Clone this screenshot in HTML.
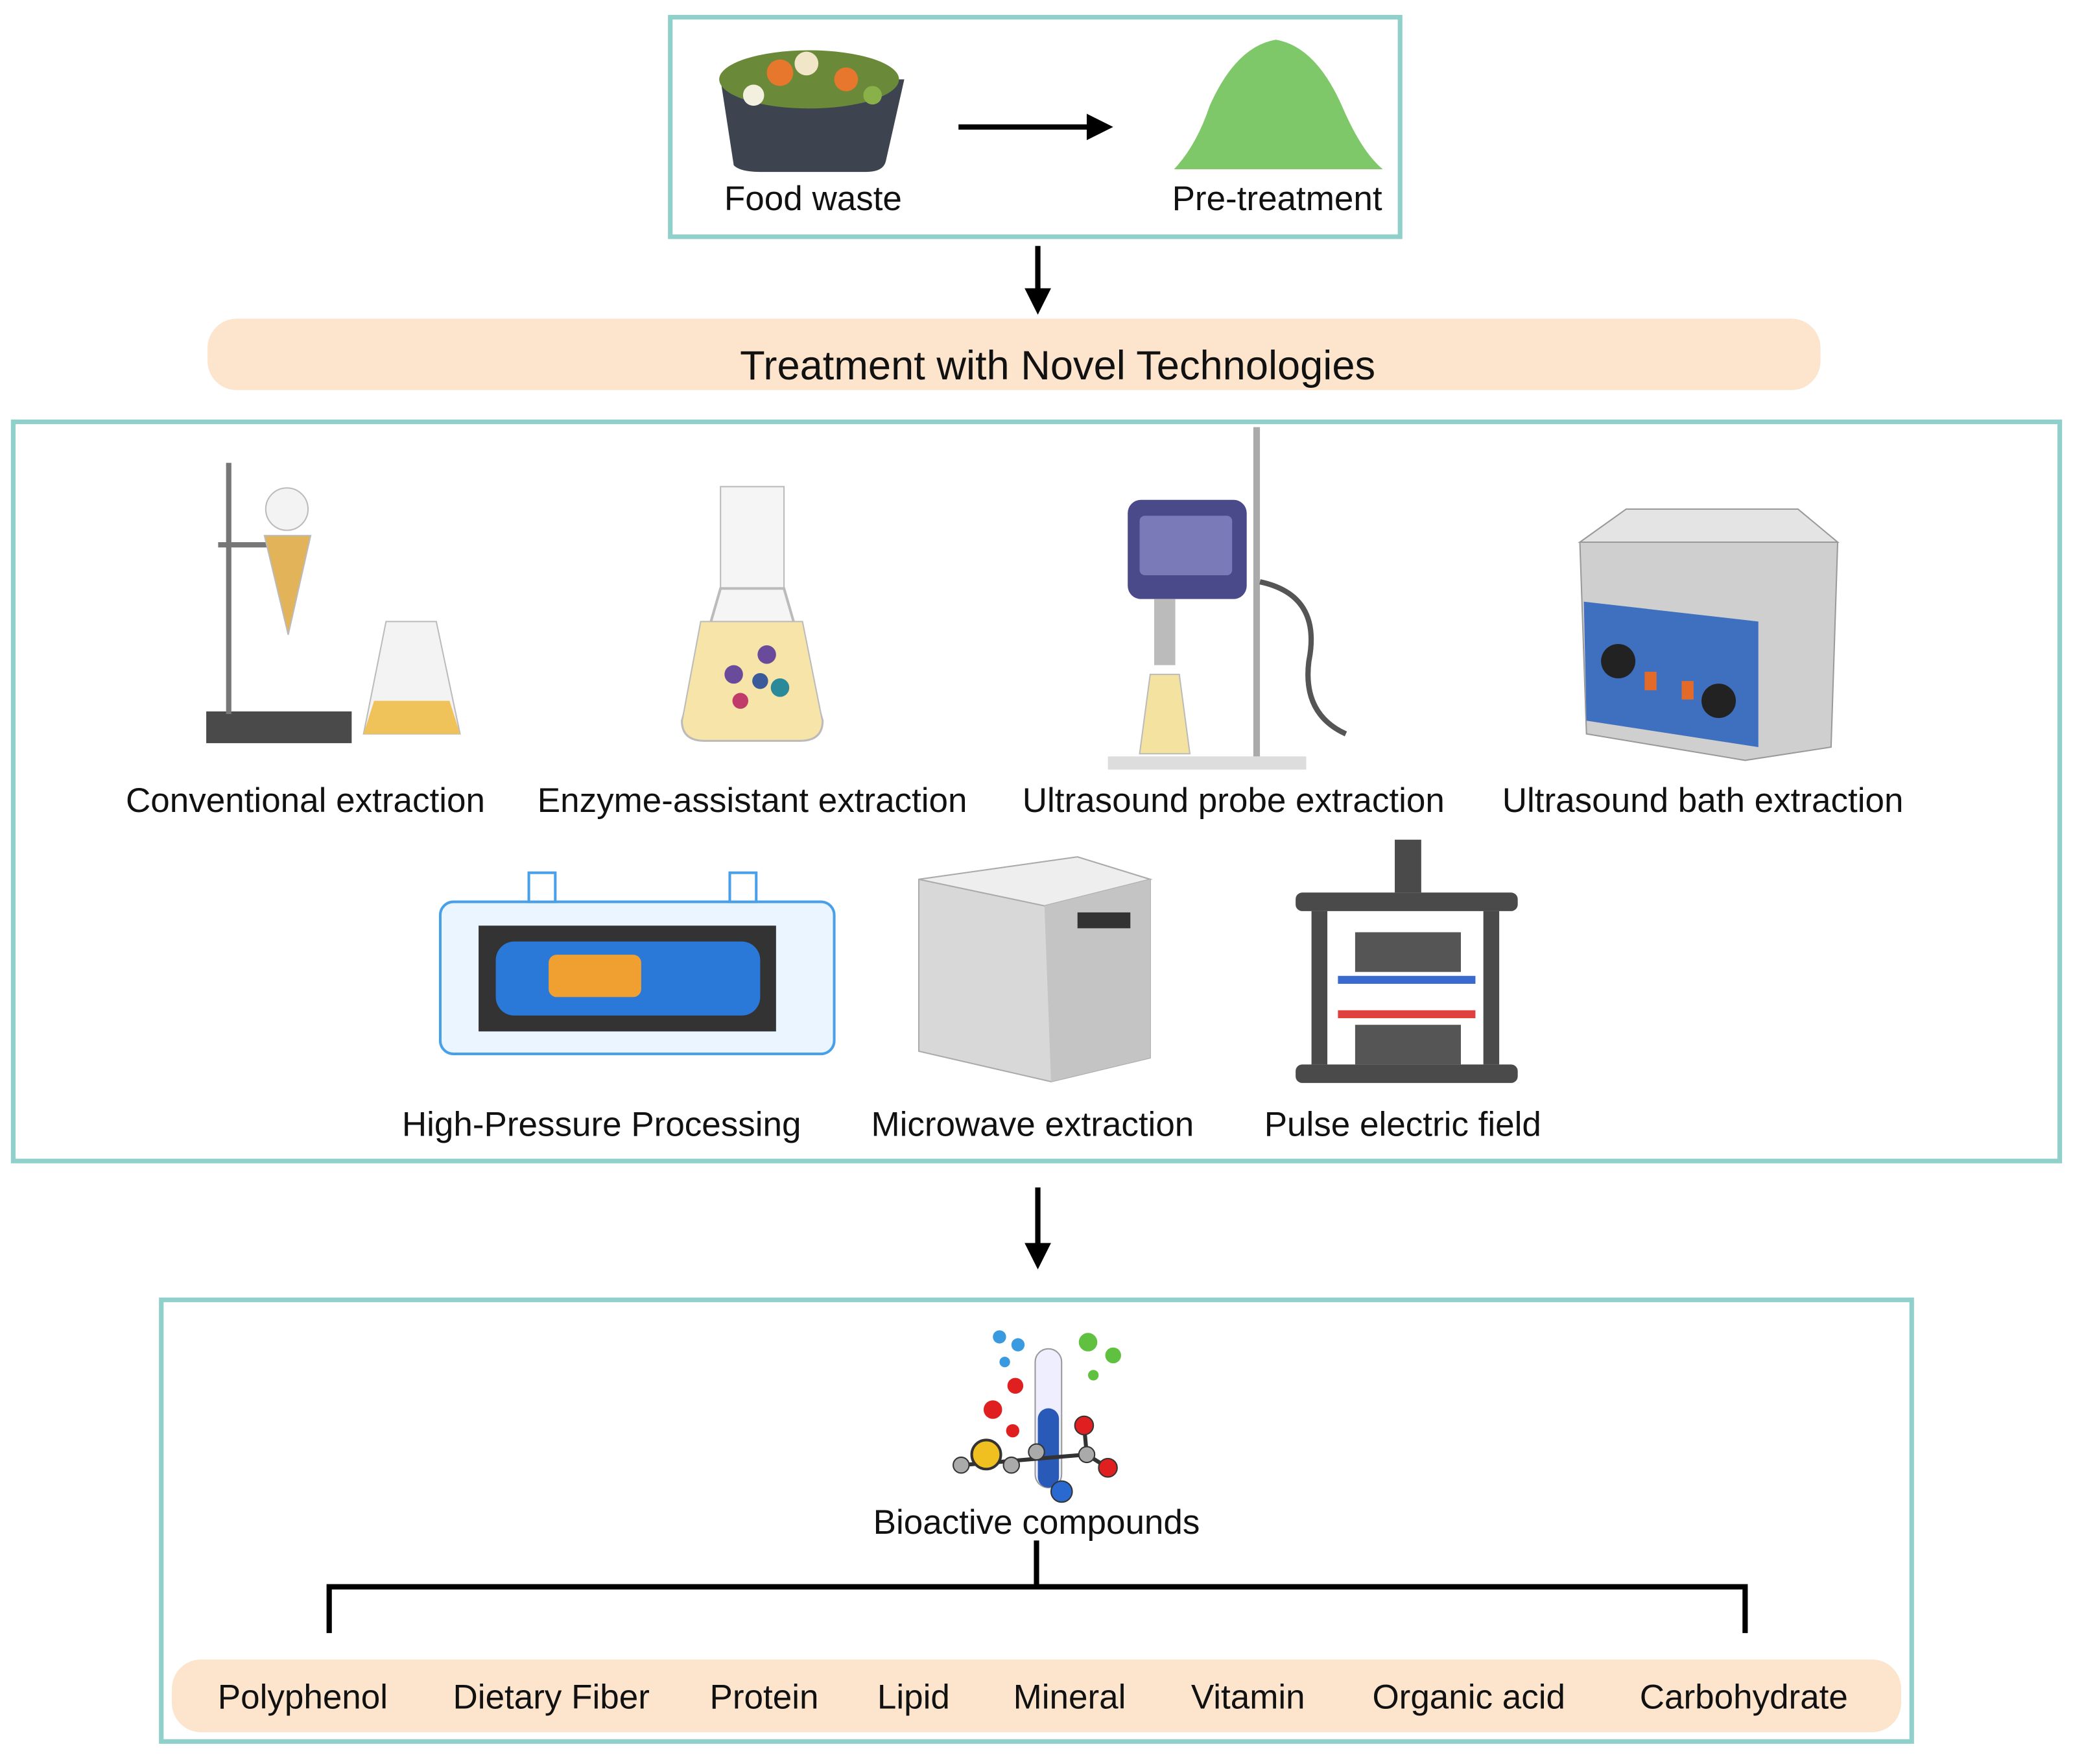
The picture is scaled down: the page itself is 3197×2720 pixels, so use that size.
<!DOCTYPE html>
<html><head><meta charset="utf-8"><style>
html,body{margin:0;padding:0;background:#fff;}
svg{display:block;}
text{font-family:"Liberation Sans",Arial,sans-serif;fill:#111;}
</style></head><body>
<svg width="3197" height="2720" viewBox="0 0 1568 1334" xmlns="http://www.w3.org/2000/svg">
<!-- top box -->
<rect x="507" y="13" width="552" height="166" fill="#fff" stroke="#8fd0ca" stroke-width="3.5"/>
<path d="M545,60 L555,125 Q560,130 575,130 L655,130 Q668,130 670,122 L684,60 Z" fill="#3d4450"/>
<ellipse cx="612" cy="60" rx="68" ry="22" fill="#6a8a3a"/>
<circle cx="590" cy="55" r="10" fill="#e8772e"/><circle cx="640" cy="60" r="9" fill="#e8772e"/><circle cx="610" cy="48" r="9" fill="#f2e6c8"/><circle cx="570" cy="72" r="8" fill="#f4f0e0"/><circle cx="660" cy="72" r="7" fill="#8ab04a"/>
<line x1="725" y1="96" x2="832" y2="96" stroke="#000" stroke-width="4"/>
<path d="M822,86 L842,96 L822,106 z" fill="#000"/>
<path d="M888,128 Q905,110 915,80 Q935,35 965,30 Q995,35 1015,80 Q1030,115 1046,128 Z" fill="#7ec86a"/>
<text x="615" y="159" font-size="26" text-anchor="middle">Food waste</text>
<text x="966" y="159" font-size="26" text-anchor="middle">Pre-treatment</text>
<line x1="785" y1="186" x2="785" y2="226" stroke="#000" stroke-width="4"/>
<path d="M775,218 L785,238 L795,218 z" fill="#000"/>
<rect x="157" y="241" width="1220" height="54" rx="22" fill="#fce4cd"/>
<text x="800" y="287" font-size="31" text-anchor="middle">Treatment with Novel Technologies</text>
<rect x="10" y="319" width="1548" height="559" fill="#fff" stroke="#8fd0ca" stroke-width="3.5"/>
<rect x="156" y="538" width="110" height="24" fill="#4a4a4a"/>
<rect x="171" y="350" width="4" height="190" fill="#777"/>
<rect x="165" y="410" width="45" height="4" fill="#777"/>
<path d="M200,405 L235,405 L218,480 Z" fill="#e3b35a" stroke="#bbb"/>
<circle cx="217" cy="385" r="16" fill="#f3f3f3" stroke="#bbb"/>
<path d="M292,470 L330,470 L348,555 L275,555 Z" fill="#f3f3f3" stroke="#bbb"/>
<path d="M283,530 L340,530 L348,555 L275,555 Z" fill="#f0c25a"/>
<rect x="545" y="368" width="48" height="80" fill="#f5f5f5" stroke="#bbb"/>
<path d="M545,445 L593,445 L622,545 Q622,560 605,560 L533,560 Q516,560 516,545 Z" fill="#f5f5f5" stroke="#bbb" stroke-width="2"/>
<path d="M530,470 L607,470 L622,545 Q622,560 605,560 L533,560 Q516,560 516,545 Z" fill="#f6e4a8" stroke="#bbb"/>
<g fill="#6a4a9a"><circle cx="555" cy="510" r="7"/><circle cx="580" cy="495" r="7"/><circle cx="590" cy="520" r="7" fill="#2a8a9a"/><circle cx="560" cy="530" r="6" fill="#c03a6a"/><circle cx="575" cy="515" r="6" fill="#3a5a9a"/></g>
<rect x="948" y="323" width="5" height="255" fill="#aaa"/>
<rect x="838" y="572" width="150" height="10" fill="#ddd"/>
<rect x="853" y="378" width="90" height="75" rx="10" fill="#4a4a8a"/>
<rect x="862" y="390" width="70" height="45" rx="4" fill="#7a7ab8"/>
<rect x="873" y="453" width="16" height="50" fill="#bbb"/>
<path d="M870,510 L892,510 L900,570 L862,570 Z" fill="#f4e3a0" stroke="#bbb"/>
<path d="M953,440 Q1000,450 990,500 Q985,540 1018,555" fill="none" stroke="#555" stroke-width="4"/>
<path d="M1195,410 L1390,410 L1385,565 L1320,575 L1200,555 Z" fill="#cfcfcf" stroke="#999"/>
<path d="M1195,410 L1230,385 L1360,385 L1390,410 Z" fill="#e4e4e4" stroke="#999"/>
<path d="M1198,455 L1330,470 L1330,565 L1200,545 Z" fill="#3f6fbf"/>
<circle cx="1224" cy="500" r="13" fill="#222"/><circle cx="1300" cy="530" r="13" fill="#222"/>
<rect x="1244" y="508" width="9" height="14" fill="#e46a2a"/><rect x="1272" y="515" width="9" height="14" fill="#e46a2a"/>
<text x="231" y="614" font-size="26" text-anchor="middle">Conventional extraction</text>
<text x="569" y="614" font-size="26" text-anchor="middle">Enzyme-assistant extraction</text>
<text x="933" y="614" font-size="26" text-anchor="middle">Ultrasound probe extraction</text>
<text x="1288" y="614" font-size="26" text-anchor="middle">Ultrasound bath extraction</text>
<rect x="333" y="682" width="298" height="115" rx="10" fill="#eaf5ff" stroke="#4aa0e8" stroke-width="2"/>
<rect x="362" y="700" width="225" height="80" fill="#333"/>
<rect x="375" y="712" width="200" height="56" rx="14" fill="#2a78d8"/>
<rect x="415" y="722" width="70" height="32" rx="6" fill="#f0a030"/>
<rect x="400" y="660" width="20" height="22" fill="#fff" stroke="#4aa0e8" stroke-width="2"/>
<rect x="552" y="660" width="20" height="22" fill="#fff" stroke="#4aa0e8" stroke-width="2"/>
<path d="M695,665 L815,648 L870,665 L870,800 L795,818 L695,795 Z" fill="#d8d8d8" stroke="#aaa"/>
<path d="M695,665 L815,648 L870,665 L790,685 Z" fill="#eeeeee" stroke="#aaa"/>
<path d="M790,685 L870,665 L870,800 L795,818 Z" fill="#c4c4c4"/>
<rect x="815" y="690" width="40" height="12" fill="#333"/>
<rect x="980" y="675" width="168" height="14" rx="5" fill="#4a4a4a"/>
<rect x="980" y="805" width="168" height="14" rx="5" fill="#4a4a4a"/>
<rect x="992" y="689" width="12" height="116" fill="#4a4a4a"/>
<rect x="1122" y="689" width="12" height="116" fill="#4a4a4a"/>
<rect x="1055" y="635" width="20" height="40" fill="#4a4a4a"/>
<rect x="1025" y="705" width="80" height="30" fill="#555"/>
<rect x="1025" y="775" width="80" height="30" fill="#555"/>
<rect x="1012" y="738" width="104" height="6" fill="#3a6ad0"/>
<rect x="1012" y="764" width="104" height="6" fill="#e04040"/>
<text x="455" y="859" font-size="26" text-anchor="middle">High-Pressure Processing</text>
<text x="781" y="859" font-size="26" text-anchor="middle">Microwave extraction</text>
<text x="1061" y="859" font-size="26" text-anchor="middle">Pulse electric field</text>
<line x1="785" y1="898" x2="785" y2="948" stroke="#000" stroke-width="4"/>
<path d="M775,940 L785,960 L795,940 z" fill="#000"/>
<rect x="122" y="983" width="1324" height="334" fill="#fff" stroke="#8fd0ca" stroke-width="3.5"/>
<rect x="783" y="1020" width="20" height="105" rx="10" fill="#eef" stroke="#999"/>
<rect x="785" y="1065" width="16" height="60" rx="8" fill="#2a5ab8"/>
<g stroke="#333" stroke-width="3"><line x1="727" y1="1108" x2="822" y2="1100"/><line x1="822" y1="1100" x2="838" y2="1110"/><line x1="822" y1="1100" x2="820" y2="1078"/></g>
<circle cx="746" cy="1100" r="11" fill="#f0c020" stroke="#333" stroke-width="2"/>
<circle cx="727" cy="1108" r="6" fill="#aaa" stroke="#333"/><circle cx="765" cy="1108" r="6" fill="#aaa" stroke="#333"/><circle cx="784" cy="1098" r="6" fill="#aaa" stroke="#333"/>
<circle cx="803" cy="1128" r="8" fill="#2a6ad0" stroke="#333"/><circle cx="822" cy="1100" r="6" fill="#aaa" stroke="#333"/>
<circle cx="838" cy="1110" r="7" fill="#e02020" stroke="#333"/><circle cx="820" cy="1078" r="7" fill="#e02020" stroke="#333"/>
<circle cx="751" cy="1066" r="7" fill="#e02020"/><circle cx="768" cy="1048" r="6" fill="#e02020"/><circle cx="766" cy="1082" r="5" fill="#e02020"/>
<circle cx="756" cy="1011" r="5" fill="#3a9ae0"/><circle cx="770" cy="1017" r="5" fill="#3a9ae0"/><circle cx="760" cy="1030" r="4" fill="#3a9ae0"/>
<circle cx="823" cy="1015" r="7" fill="#60c040"/><circle cx="842" cy="1025" r="6" fill="#60c040"/><circle cx="827" cy="1040" r="4" fill="#60c040"/>
<text x="784" y="1160" font-size="26" text-anchor="middle">Bioactive compounds</text>
<g stroke="#000" stroke-width="4" fill="none">
<line x1="784" y1="1165" x2="784" y2="1200"/>
<path d="M249,1235 L249,1200 L1320,1200 L1320,1235"/>
</g>
<rect x="130" y="1255" width="1308" height="55" rx="22" fill="#fce4cd"/>
<g font-size="26" text-anchor="middle">
<text x="229" y="1292">Polyphenol</text>
<text x="417" y="1292">Dietary Fiber</text>
<text x="578" y="1292">Protein</text>
<text x="691" y="1292">Lipid</text>
<text x="809" y="1292">Mineral</text>
<text x="944" y="1292">Vitamin</text>
<text x="1111" y="1292">Organic acid</text>
<text x="1319" y="1292">Carbohydrate</text>
</g>
</svg>
</body></html>
